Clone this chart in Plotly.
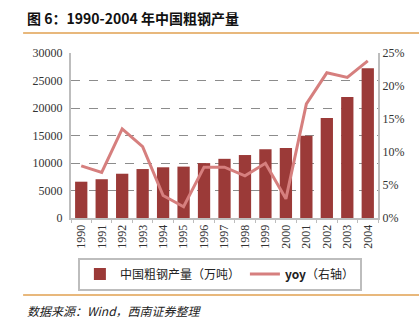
import plotly.graph_objects as go

years = ["1990", "1991", "1992", "1993", "1994", "1995", "1996", "1997",
         "1998", "1999", "2000", "2001", "2002", "2003", "2004"]
output = [6600, 7050, 8050, 8900, 9220, 9340, 9980, 10760, 11450, 12480,
          12750, 14950, 18200, 22000, 27250]
yoy = [0.079, 0.069, 0.135, 0.108, 0.034, 0.017, 0.077, 0.077, 0.064,
       0.083, 0.029, 0.173, 0.220, 0.213, 0.238]

BAR = "#9B3A38"
LINE = "#D67F7E"
AX = "#BDBDBD"
ORANGE = "#E0A050"
CJK = "Noto Sans CJK SC"
SERIF = "Liberation Serif"

fig = go.Figure()
fig.add_trace(go.Bar(x=years, y=output, name="中国粗钢产量（万吨）",
                     marker=dict(color=BAR, line=dict(width=0)), yaxis="y"))
fig.add_trace(go.Scatter(x=years, y=yoy, name="<b>yoy</b>（右轴）", mode="lines",
                         line=dict(color=LINE, width=3), yaxis="y2"))

fig.update_layout(
    width=419, height=331,
    margin=dict(l=71, r=41, t=53, b=113),
    paper_bgcolor="white", plot_bgcolor="white",
    bargap=0.4,
    showlegend=True,
    legend=dict(orientation="h", x=0.485, y=-0.34, xanchor="center", yanchor="middle",
                bordercolor=AX, borderwidth=2, font=dict(family=CJK, size=12, color="#222"),
                itemwidth=30, tracegroupgap=0),
    xaxis=dict(type="category", tickangle=-90, showline=True, linecolor=AX, linewidth=2,
               ticks="outside", ticklen=3, tickcolor=AX, tickson="boundaries",
               tickfont=dict(family=SERIF, size=12, color="#333"), showgrid=False),
    yaxis=dict(range=[0, 30000], dtick=5000, tickformat="d", showline=True, linecolor=AX, linewidth=2,
               showgrid=True, gridcolor="#8C8C8C", griddash="dash", gridwidth=1.3,
               tickfont=dict(family=SERIF, size=12, color="#333"), zeroline=False,
               ticks="", ticklabelstandoff=4, layer="below traces"),
    yaxis2=dict(range=[0, 0.25], dtick=0.05, tickformat=".0%", overlaying="y", side="right",
                showline=True, linecolor=AX, linewidth=2, showgrid=False, zeroline=False,
                tickfont=dict(family=SERIF, size=12, color="#333")),
)

fig.add_annotation(text="<b>图 6：1990-2004 年中国粗钢产量</b>", xref="paper", yref="paper",
                   x=-0.15, y=1.215, xanchor="left", yanchor="middle", showarrow=False,
                   font=dict(family=CJK, size=14, color="#111"))
fig.add_annotation(text="<i>数据来源：Wind，西南证券整理</i>", xref="paper", yref="paper",
                   x=-0.15, y=-0.56, xanchor="left", yanchor="middle", showarrow=False,
                   font=dict(family=CJK, size=12, color="#222"))

for yv in (1.121, -0.467):
    fig.add_shape(type="line", xref="paper", yref="paper", x0=-0.156, x1=1.14,
                  y0=yv, y1=yv, line=dict(color=ORANGE, width=1.5))

fig.write_html("out.html")
